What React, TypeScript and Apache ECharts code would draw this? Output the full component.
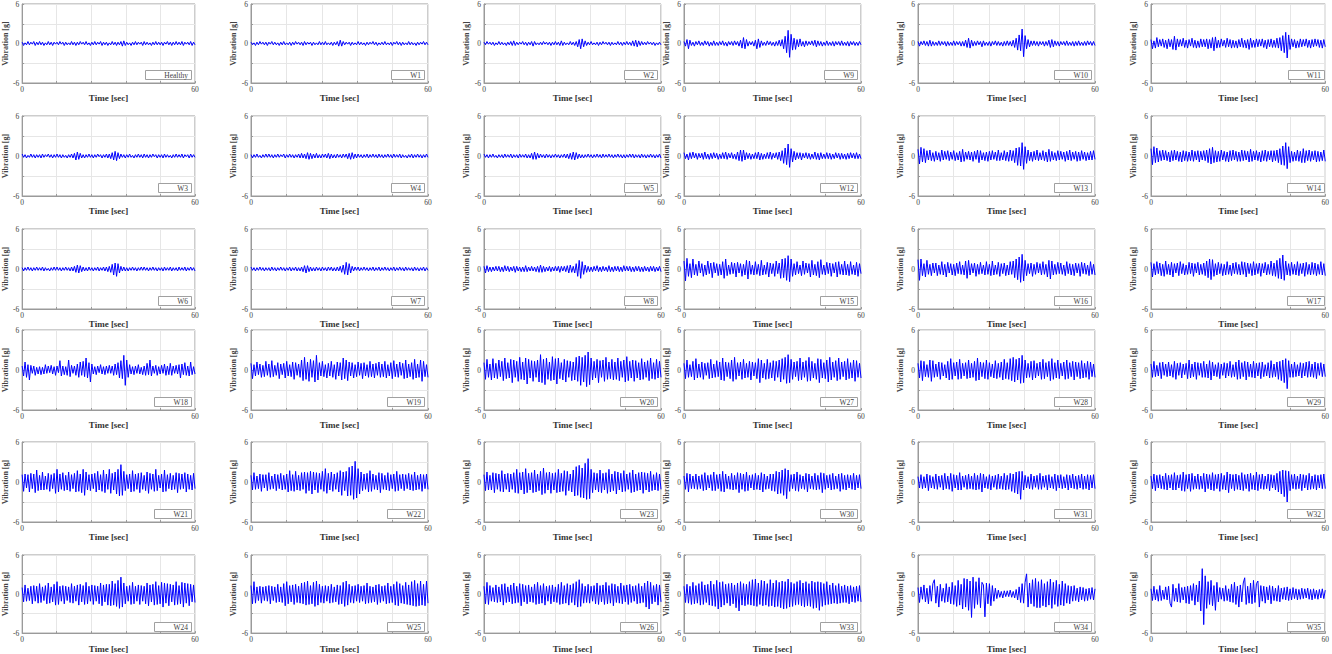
import React, { useEffect, useRef } from "react";
import * as echarts from "echarts";

// ---------- layout of the 6x6 panel grid (pixels) ----------
const COLS = [18, 251, 484, 684, 918, 1151];
const ROWS = [3, 116, 229, 330, 442, 555];
const PW = 177;
const PH = 80;

// ---------- axis ranges / ticks ----------
const X_MIN = 0;
const X_MAX = 60;
const X_STEP = 12;
const X_LABELS = [0, 60];
const Y_MIN = -6;
const Y_MAX = 6;
const Y_STEP = 3;
const Y_LABELS = [-6, 0, 6];

// ---------- panel labels, in layout order (row by row) ----------
const PANEL_LABELS = [
  "Healthy", "W1", "W2", "W9", "W10", "W11",
  "W3", "W4", "W5", "W12", "W13", "W14",
  "W6", "W7", "W8", "W15", "W16", "W17",
  "W18", "W19", "W20", "W27", "W28", "W29",
  "W21", "W22", "W23", "W30", "W31", "W32",
  "W24", "W25", "W26", "W33", "W34", "W35",
];

// ---------- vibration samples (g), evenly spaced over 0..60 s ----------
const healthy = [
  .2,-.3,.1,-.2,.3,-.2,.2,-.1,.3,-.3,.2,-.2, .3,-.2,.2,-.3,.1,-.2,.3,-.2,.2,-.3,.2,-.1,
  .2,-.2,.3,-.1,.2,-.3,.2,-.2,.1,-.2,.3,-.2, .2,-.3,.2,-.2,.3,-.1,.2,-.2,.3,-.2,.1,-.3,
  .2,-.2,.3,-.2,.2,-.1,.3,-.3,.2,-.2,.2,-.3, .1,-.2,.3,-.2,.2,-.3,.2,-.2,.3,-.4,.4,-.3,
  .2,-.2,.1,-.3,.2,-.2,.3,-.2,.2,-.1,.2,-.3, .3,-.2,.2,-.2,.1,-.3,.2,-.2,.3,-.2,.2,-.2,
  .2,-.3,.2,-.1,.3,-.2,.2,-.3,.2,-.2,.3,-.2, .2,-.2,.3,-.3,.2,-.1,.2,-.2,.3,-.3,.2,-.2];
const w1 = [
  .2,-.2,.1,-.3,.2,-.2,.3,-.1,.2,-.2,.2,-.3, .2,-.1,.3,-.2,.2,-.2,.1,-.3,.2,-.2,.3,-.2,
  .1,-.2,.2,-.3,.2,-.2,.3,-.1,.2,-.2,.2,-.3, .3,-.2,.2,-.1,.2,-.3,.2,-.2,.1,-.2,.3,-.2,
  .2,-.2,.3,-.2,.1,-.2,.2,-.3,.2,-.2,.3,-.4, .5,-.4,.3,-.2,.2,-.1,.2,-.3,.2,-.2,.1,-.2,
  .3,-.2,.2,-.2,.1,-.3,.2,-.2,.2,-.1,.3,-.2, .2,-.3,.1,-.2,.2,-.2,.3,-.2,.1,-.2,.2,-.3,
  .2,-.1,.3,-.2,.2,-.3,.2,-.2,.1,-.2,.3,-.2, .2,-.2,.1,-.3,.2,-.2,.2,-.1,.3,-.2,.2,-.2];
const w2 = [
  .2,-.2,.3,-.1,.2,-.2,.2,-.3,.1,-.2,.3,-.2, .2,-.2,.1,-.3,.2,-.2,.3,-.3,.4,-.3,.2,-.2,
  .2,-.1,.3,-.2,.2,-.3,.2,-.2,.3,-.4,.3,-.2, .1,-.2,.2,-.2,.3,-.1,.2,-.2,.2,-.3,.2,-.2,
  .3,-.2,.2,-.3,.4,-.3,.2,-.2,.1,-.2,.3,-.2, .2,-.3,.3,-.5,.6,-.8,.7,-.5,.4,-.3,.2,-.2,
  .3,-.2,.1,-.2,.2,-.3,.2,-.2,.3,-.1,.2,-.2, .2,-.3,.2,-.2,.1,-.2,.3,-.2,.2,-.3,.2,-.2,
  .3,-.2,.2,-.3,.4,-.4,.5,-.5,.4,-.3,.3,-.2, .2,-.2,.3,-.1,.2,-.2,.2,-.3,.1,-.2,.2,-.2];
const w9 = [
  .3,-.4,.6,-.8,.5,-.3,.2,-.4,.3,-.2,.4,-.3, .2,-.3,.4,-.2,.3,-.4,.2,-.3,.4,-.3,.2,-.3,
  .3,-.2,.4,-.3,.2,-.4,.3,-.2,.3,-.3,.4,-.2, .3,-.4,.5,-.7,.9,-.8,.6,-.4,.3,-.2,.3,-.4,
  .5,-.8,.7,-.6,.4,-.3,.2,-.3,.4,-.2,.3,-.3, .2,-.4,.3,-.3,.5,-.4,.6,-.8,1.1,-1.4,2,-2.1,
  1.4,-1,.8,-.9,.6,-.5,.7,-.4,.3,-.5,.4,-.3, .3,-.2,.4,-.3,.5,-.5,.4,-.3,.3,-.4,.2,-.3,
  .4,-.3,.2,-.3,.3,-.4,.3,-.2,.3,-.3,.4,-.3, .2,-.3,.3,-.4,.3,-.2,.3,-.3,.2,-.3,.3,-.2];
const w10 = [
  .3,-.4,.3,-.2,.4,-.3,.3,-.4,.5,-.4,.3,-.3, .2,-.3,.4,-.3,.3,-.2,.3,-.4,.3,-.3,.2,-.3,
  .4,-.3,.3,-.2,.3,-.4,.3,-.4,.5,-.6,.8,-.7, .5,-.4,.3,-.3,.4,-.2,.3,-.5,.4,-.3,.2,-.3,
  .3,-.4,.3,-.2,.4,-.3,.3,-.3,.2,-.4,.3,-.3, .4,-.3,.3,-.4,.5,-.6,.8,-1,1.3,-1.1,2.2,-2,
  1.2,-.8,.6,-.5,.4,-.3,.4,-.3,.3,-.4,.3,-.2, .3,-.4,.3,-.3,.5,-.6,.6,-.5,.4,-.3,.3,-.4,
  .3,-.2,.3,-.3,.4,-.3,.2,-.3,.3,-.4,.3,-.3, .4,-.3,.2,-.3,.3,-.3,.4,-.2,.3,-.3,.3,-.3];
const w11 = [
  .6,-.8,.4,-.7,.9,-.5,.6,-.4,.7,-.6,.5,-.8, .7,-.5,.6,-.9,1.1,-1,.7,-.5,.6,-.4,.8,-.6,
  .5,-.7,.6,-.4,.8,-.6,.5,-.7,.4,-.6,.7,-.5, .6,-.5,.7,-.8,.6,-.7,.9,-1.1,1,-.7,.5,-.6,
  .7,-.4,.5,-.6,.8,-.5,.6,-.7,.5,-.6,.4,-.7, .6,-.5,.8,-.6,.5,-.7,.6,-.9,.8,-.6,.5,-.6,
  .7,-.5,.6,-.4,.7,-.6,.5,-.8,.6,-.5,.7,-.6, .5,-.6,.8,-.7,.9,-1.1,1.2,-1.4,1.7,-2.2,1.3,-.9,
  .7,-.5,.6,-.7,.4,-.6,.7,-.5,.6,-.4,.7,-.6, .5,-.7,.6,-.5,.7,-.4,.6,-.6,.5,-.7,.6,-.5];
const w3 = [
  .3,-.2,.2,-.3,.1,-.2,.3,-.2,.2,-.3,.2,-.2, .2,-.3,.3,-.2,.2,-.1,.3,-.2,.2,-.3,.2,-.2,
  .3,-.2,.2,-.3,.2,-.2,.1,-.3,.2,-.2,.3,-.3, .4,-.6,.6,-.5,.4,-.3,.2,-.3,.2,-.2,.3,-.2,
  .2,-.3,.2,-.2,.3,-.1,.2,-.3,.2,-.2,.3,-.3, .3,-.4,.5,-.6,.7,-.7,.5,-.4,.3,-.2,.2,-.3,
  .2,-.2,.3,-.2,.1,-.3,.2,-.2,.3,-.2,.2,-.3, .3,-.2,.2,-.3,.2,-.2,.3,-.1,.2,-.3,.2,-.2,
  .2,-.3,.3,-.2,.2,-.2,.1,-.3,.2,-.2,.3,-.2, .2,-.2,.3,-.3,.2,-.1,.2,-.3,.3,-.2,.2,-.2];
const w4 = [
  .2,-.3,.2,-.2,.3,-.2,.1,-.3,.2,-.2,.3,-.2, .3,-.2,.2,-.3,.2,-.2,.3,-.2,.2,-.1,.3,-.3,
  .2,-.2,.3,-.2,.2,-.3,.2,-.2,.3,-.3,.4,-.3, .3,-.4,.5,-.5,.4,-.4,.3,-.3,.4,-.3,.2,-.3,
  .3,-.2,.3,-.3,.4,-.4,.3,-.3,.2,-.3,.3,-.2, .2,-.3,.3,-.2,.3,-.4,.4,-.5,.5,-.4,.3,-.3,
  .3,-.2,.2,-.3,.2,-.2,.3,-.3,.2,-.2,.3,-.2, .2,-.3,.3,-.2,.2,-.3,.2,-.2,.3,-.2,.2,-.3,
  .3,-.2,.2,-.2,.3,-.3,.2,-.2,.1,-.3,.2,-.2, .3,-.3,.2,-.2,.3,-.2,.2,-.3,.2,-.2,.3,-.2];
const w5 = [
  .3,-.2,.2,-.3,.2,-.2,.3,-.2,.1,-.3,.2,-.2, .2,-.3,.3,-.2,.2,-.2,.3,-.3,.2,-.2,.2,-.3,
  .3,-.2,.2,-.2,.3,-.3,.2,-.3,.4,-.5,.6,-.5, .4,-.3,.3,-.2,.2,-.3,.3,-.2,.2,-.3,.2,-.2,
  .3,-.2,.2,-.3,.2,-.2,.3,-.3,.3,-.4,.4,-.5, .6,-.6,.5,-.4,.3,-.3,.2,-.3,.2,-.2,.3,-.2,
  .2,-.3,.2,-.2,.3,-.2,.2,-.3,.3,-.2,.2,-.2, .3,-.2,.2,-.3,.2,-.2,.3,-.2,.2,-.3,.2,-.3,
  .2,-.2,.3,-.2,.3,-.3,.2,-.2,.2,-.3,.3,-.2, .2,-.3,.2,-.2,.3,-.2,.2,-.3,.2,-.2,.3,-.3];
const w12 = [
  .5,-.4,.3,-.6,.5,-.4,.6,-.3,.4,-.5,.4,-.3, .4,-.5,.6,-.4,.3,-.5,.4,-.4,.5,-.3,.4,-.5,
  .3,-.4,.5,-.4,.6,-.5,.4,-.3,.5,-.4,.3,-.5, .6,-.7,.9,-.8,.9,-.6,.5,-.4,.4,-.5,.3,-.4,
  .5,-.4,.6,-.6,.4,-.5,.3,-.4,.5,-.4,.6,-.5, .4,-.3,.5,-.5,.6,-.7,.8,-1.1,1.2,-1.3,1.8,-1.7,
  1.1,-.9,.7,-.6,.5,-.4,.5,-.6,.4,-.3,.5,-.4, .4,-.5,.3,-.4,.6,-.5,.4,-.6,.5,-.4,.3,-.4,
  .5,-.4,.4,-.5,.3,-.4,.5,-.3,.4,-.5,.4,-.4, .3,-.5,.4,-.4,.5,-.3,.4,-.4,.5,-.4,.3,-.4];
const w13 = [
  1,-1.2,1.3,-.9,1.1,-1,.8,-.6,.9,-.7,.5,-.8, .7,-.6,.5,-.8,.9,-.6,.7,-.5,.8,-.7,.6,-.5,
  .8,-.7,.5,-.6,.7,-.9,1,-.8,.6,-.5,.7,-.6, .6,-.8,.7,-.5,.9,-1,.8,-.6,.5,-.7,.6,-.8,
  .7,-.6,.8,-.5,.6,-.7,.9,-.7,.5,-.6,.8,-.7, .6,-.8,.9,-.7,.8,-1,1.2,-1.4,1.3,-1.5,2,-2,
  1.4,-1.1,.9,-.7,.6,-.8,.7,-.6,.9,-.7,.5,-.6, .8,-.7,.6,-.9,1,-.8,.7,-.6,.5,-.7,.8,-.6,
  .7,-.5,.6,-.8,.7,-.6,.9,-.7,.6,-.5,.7,-.8, .6,-.7,.8,-.5,.6,-.7,.5,-.6,.7,-.6,.8,-.5];
const w14 = [
  1.1,-1.3,1.4,-1,1.2,-.9,.8,-.7,.9,-.6,.8,-.7, .6,-.9,.8,-.7,.9,-.6,.7,-.8,.6,-.9,.8,-.7,
  .7,-.8,.6,-.7,.9,-.8,.7,-.6,.8,-.9,.7,-.6, .8,-.7,.9,-1,1.1,-1.2,1.3,-1,.8,-.9,.7,-.8,
  .9,-.6,.7,-.8,.6,-.9,.8,-.7,.9,-.6,.7,-.8, .6,-.8,.9,-.7,.8,-.6,.7,-.9,1,-.8,.7,-.6,
  .8,-.7,.6,-.9,.8,-.7,.9,-.8,.7,-.6,.8,-.9, .8,-.7,.9,-1,1.1,-1.3,1.5,-1.4,2,-1.9,1.4,-1,
  .7,-.8,.6,-.7,.9,-.8,.7,-1,1.1,-1,.8,-.7, .9,-.8,.7,-.6,.8,-.9,.7,-.8,.6,-.7,.9,-.8];
const w6 = [
  .2,-.3,.2,-.2,.3,-.2,.2,-.3,.2,-.2,.3,-.2, .2,-.2,.3,-.3,.2,-.2,.1,-.3,.2,-.2,.3,-.2,
  .3,-.2,.2,-.3,.2,-.2,.3,-.2,.2,-.3,.3,-.3, .4,-.5,.6,-.6,.5,-.4,.3,-.3,.2,-.3,.3,-.2,
  .2,-.3,.2,-.2,.3,-.3,.2,-.2,.3,-.3,.3,-.4, .4,-.5,.7,-.9,.9,-1.1,.8,-.6,.4,-.3,.3,-.3,
  .2,-.3,.2,-.2,.3,-.2,.2,-.3,.2,-.2,.3,-.2, .3,-.2,.2,-.3,.2,-.2,.3,-.2,.2,-.3,.2,-.2,
  .2,-.3,.3,-.2,.2,-.2,.3,-.3,.2,-.2,.2,-.3, .3,-.2,.2,-.2,.3,-.3,.2,-.2,.3,-.2,.2,-.3];
const w7 = [
  .3,-.2,.2,-.3,.2,-.2,.3,-.2,.2,-.3,.2,-.2, .2,-.3,.3,-.2,.2,-.3,.2,-.2,.3,-.2,.2,-.3,
  .2,-.2,.3,-.3,.2,-.2,.3,-.3,.2,-.3,.3,-.4, .5,-.6,.5,-.4,.3,-.3,.2,-.3,.3,-.2,.2,-.3,
  .3,-.2,.2,-.3,.3,-.2,.3,-.3,.2,-.3,.3,-.3, .4,-.5,.6,-.8,1,-.9,.8,-.6,.4,-.3,.3,-.2,
  .3,-.3,.2,-.2,.3,-.2,.2,-.3,.2,-.2,.3,-.3, .2,-.2,.3,-.3,.2,-.2,.3,-.2,.2,-.3,.2,-.2,
  .3,-.3,.2,-.2,.3,-.2,.2,-.3,.3,-.2,.2,-.2, .2,-.3,.3,-.2,.2,-.3,.2,-.2,.3,-.3,.2,-.2];
const w8 = [
  .4,-.6,.5,-.4,.3,-.4,.3,-.3,.4,-.3,.4,-.4, .3,-.4,.5,-.3,.4,-.4,.3,-.3,.4,-.5,.4,-.3,
  .3,-.4,.3,-.4,.5,-.4,.3,-.3,.4,-.3,.3,-.4, .4,-.5,.6,-.5,.4,-.4,.3,-.3,.4,-.4,.3,-.3,
  .4,-.3,.4,-.5,.4,-.3,.4,-.4,.5,-.6,.6,-.5, .4,-.6,.8,-1.1,1.3,-1.4,1.1,-.8,.6,-.5,.4,-.4,
  .3,-.4,.4,-.3,.5,-.4,.3,-.4,.4,-.3,.3,-.4, .5,-.4,.3,-.4,.4,-.3,.4,-.4,.3,-.4,.5,-.3,
  .4,-.3,.4,-.4,.3,-.4,.4,-.3,.4,-.4,.3,-.4, .4,-.3,.3,-.4,.4,-.3,.4,-.4,.3,-.3,.4,-.4];
const w15 = [
  1.2,-1.8,1.6,-1.1,.8,-1.3,1.5,-.9,.7,-1,1.2,-.6, .8,-1.1,.6,-.9,1.2,-.7,.9,-1.3,1,-.6,.8,-1,
  .7,-.9,1.1,-1.4,1.5,-1,.6,-.8,1,-.7,.9,-1.2, 1,-.6,.8,-1.1,.7,-.9,1.3,-1.5,1.2,-.8,.6,-.9,
  1.1,-.8,.7,-1,1.3,-.9,.6,-.8,1,-1.2,.9,-.7, .8,-1.1,1.2,-.7,.9,-1.4,1.5,-1.3,1.6,-1.7,2,-1.9,
  1.5,-1.1,.8,-.9,1.1,-.7,.6,-1,1.2,-.8,.9,-.6, .8,-1.2,1.3,-.9,.7,-1,1.1,-1.3,1.4,-.8,.6,-.9,
  1,-.7,.9,-1.1,.8,-.6,1,-1.2,1.1,-.8,.7,-.9, 1.2,-.9,.7,-1,1.1,-.8,.6,-.9,1,-1.1,.8,-.7];
const w16 = [
  1.4,-1.7,1.5,-1,.8,-1.2,1.3,-.8,.7,-1,.9,-.6, .9,-1,.6,-.8,1.1,-.9,.7,-1.2,1,-.6,.8,-.9,
  .7,-1,.9,-.7,1.1,-.8,.6,-.9,1.2,-1.4,1.3,-.9, .8,-.6,.9,-1.1,.7,-.8,1,-.7,.6,-.9,1.1,-.8,
  .7,-1,1.2,-.9,.6,-.8,1,-1.1,.8,-.7,.9,-1, .6,-.9,1.1,-.8,1.2,-1.3,1.5,-1.6,1.8,-2,2.2,-1.8,
  1.3,-1,.8,-.7,.9,-1.1,.7,-.8,1,-.6,.8,-.9, 1.1,-.8,.7,-1.2,1.3,-1.5,1.2,-.9,.7,-.8,1,-.7,
  .9,-.8,.6,-1,1.1,-.7,.8,-.9,.7,-1,.9,-.6, .8,-1.1,1,-.7,.9,-.8,.6,-1,1.1,-.8,.7,-.9];
const w17 = [
  1,-1.2,.8,-.9,1.1,-.7,.9,-1,.7,-1.1,1.2,-.8, .7,-.9,1,-1.2,.8,-.6,.9,-1,1.1,-.7,.8,-.9,
  .6,-.8,1,-.7,.9,-1.1,.8,-.6,1,-.9,.7,-.8, .9,-1,1.2,-1.3,1.5,-1.6,1.4,-1.1,.8,-.9,1,-.7,
  .8,-1,.7,-.9,1.1,-.8,.6,-1,.9,-.7,1,-.8, .7,-.9,1.1,-.8,1,-1.2,.9,-.7,.8,-1,1.1,-.9,
  .8,-.7,.9,-1.1,.8,-.6,1,-.9,.7,-.8,1.2,-1, .9,-1.1,1.3,-1.4,1.6,-1.5,2.1,-1.7,1.2,-.9,.8,-1,
  1,-.8,.7,-.9,1.1,-1,.8,-.7,.9,-1.1,1,-.8, .7,-.9,1,-.8,.9,-1,.7,-.8,1.1,-.9,.8,-1];
const w18 = [
  .6,-.9,1.2,-1.1,.8,-1.5,.7,-.5,.6,-.8,.4,-.6, .5,-.7,.4,-.6,.8,-.5,.6,-.4,.7,-.6,.5,-.8,
  .6,-.4,1.4,-.9,.6,-.7,.5,-.8,1.5,-1,.7,-.5, .6,-.8,.9,-1.1,1.2,-.8,1.3,-1,1.8,-1.2,1.1,-1.8,
  .9,-.6,.5,-.7,.6,-.4,.8,-.6,.5,-.7,.6,-.5, .7,-.5,.6,-.8,.9,-.7,1.1,-1.2,1.4,-1.3,2.2,-2.3,
  1.5,-1.1,.8,-.6,.5,-.7,.6,-.5,.8,-.6,.4,-.7, .6,-.8,1,-.7,1.5,-.9,.6,-.5,.7,-.8,.5,-.6,
  .7,-.5,.9,-.8,.6,-.7,1,-.8,.6,-.5,.7,-.6, .8,-1.2,.9,-.7,1.1,-.8,.6,-.9,1.2,-.7,.5,-.6];
const w19 = [
  1,-1.3,.8,-.9,1.2,-.7,.9,-1.1,.7,-1,1.3,-.8, .9,-1.1,1.4,-1,.7,-.8,1.1,-1.3,.9,-.7,1,-1.2,
  1.3,-.9,.8,-1,1.2,-1.4,1.1,-.8,.9,-1.1,1.5,-1.6, 1.9,-1.4,1.2,-1.7,1.6,-1.1,1.4,-1.8,2.2,-1.5,1.1,-.9,
  1.3,-1,.8,-1.2,1,-.9,1.3,-1.1,.8,-1.4,1.2,-.9, 1.1,-1.5,1.8,-1.3,1.5,-1.6,1.2,-.9,1.1,-1.2,.8,-1,
  1.2,-.8,1,-1.3,1.1,-.9,.8,-1.1,1.3,-1,.9,-1.2, 1,-.8,1.2,-1.1,.9,-1,1.3,-1.2,.8,-.9,1.1,-1.3,
  1.4,-1,.9,-1.1,1.2,-.8,1,-1.3,1.5,-1.2,.9,-1, 1.1,-1.4,1.6,-1.2,.9,-1.1,1.5,-1.7,1.3,-1,.8,-1.1];
const w20 = [
  1.1,-1.4,1.6,-1.1,.9,-1.5,1.7,-1.2,1,-1.3,1.5,-1, 1.3,-1.6,1.8,-1.3,1.1,-1.2,1.6,-1.9,1.5,-1.1,1.3,-1.7,
  1.9,-1.4,1.2,-1.5,1.8,-2.1,1.6,-1.2,1.4,-1.7,1.3,-1.1, 1.5,-1.8,2.3,-1.9,1.6,-2.2,1.8,-1.4,1.2,-1.6,2,-1.5,
  1.7,-2.1,1.8,-1.3,1.1,-1.5,1.6,-1.8,1.4,-1.1,1.3,-1.6, 1.2,-1.5,1.9,-1.7,2.1,-2.3,1.9,-1.8,2.2,-2.5,2.7,-2.2,
  1.8,-1.5,1.3,-1.2,1.6,-1.9,1.4,-1.1,1.5,-1.7,1.9,-1.4, 1.2,-1.3,1.6,-1.5,1.2,-1.4,1.8,-1.6,1.3,-1.1,1.5,-1.8,
  2,-1.6,1.3,-1.2,1.5,-1.7,1.4,-1.2,1.1,-1.5,1.7,-1.4, 1.2,-1.1,1.4,-1.6,1.8,-1.3,1.1,-1.4,1.6,-1.2,1.3,-1.1];
const w27 = [
  1,-1.3,1.5,-1.1,.8,-1,1.3,-1.5,1.7,-1.2,.9,-1.1, 1.2,-1.4,1,-.8,1.1,-1.3,1.6,-1.2,.9,-1.1,1.4,-1,
  1.2,-1.5,1.8,-1.6,1.2,-1,1.1,-1.3,1.5,-1.7,1.9,-1.4, 1.1,-.9,1.2,-1.4,1.6,-1.2,1,-1.1,1.3,-1.5,1.2,-.9,
  1.1,-1.3,1.7,-1.9,1.5,-1.2,1,-1.4,1.6,-1.3,1.1,-1.2, 1.4,-1.6,1.3,-1.1,1.5,-1.8,1.7,-1.4,1.9,-2,2.3,-1.9,
  1.6,-1.4,1.2,-1,1.3,-1.6,1.8,-1.5,1.2,-1.1,1.4,-1.7, 1.9,-1.6,1.3,-1.2,1,-1.4,1.7,-1.9,1.6,-1.2,1.1,-1.3,
  1.5,-1.8,1.9,-1.5,1.2,-1.1,1.4,-1.6,1.8,-1.4,1.2,-1, 1.3,-1.5,1.7,-1.3,1.1,-1.2,1.5,-1.7,1.4,-1.1,1,-1.2];
const w28 = [
  1,-1.2,1.4,-1.6,1.3,-1,.8,-1.1,1.5,-1.7,1.4,-1.1, .9,-1,1.2,-1.4,1.1,-.9,.8,-1.2,1.3,-1.5,1.7,-1.4,
  1.1,-.9,1.2,-1.4,1.6,-1.3,1,-.9,1.1,-1.3,1.5,-1.2, 1,-1.1,1.3,-1.6,1.8,-1.5,1.2,-1,1.1,-1.3,1.5,-1.4,
  1.1,-1,.9,-1.2,1.4,-1.3,1,-1.1,1.2,-1.5,1.6,-1.3, 1.1,-1.4,1.7,-1.6,1.9,-1.8,1.6,-1.5,1.8,-2,2.2,-1.9,
  1.5,-1.2,1,-1.1,1.3,-1.5,1.4,-1.2,1,-.9,1.2,-1.4, 1.6,-1.3,1.1,-1,1.3,-1.6,1.7,-1.4,1.1,-1.2,1.5,-1.3,
  1,-.9,1.2,-1.4,1.5,-1.3,1.1,-1,1.3,-1.5,1.2,-1, 1.1,-1.3,1.4,-1.2,1,-1.1,1.3,-1.4,1.2,-1,.9,-1.1];
const w29 = [
  .9,-1.1,1.3,-1,.7,-.9,1.1,-1.3,1.2,-.8,.9,-1, 1.2,-.9,.8,-1.1,1.3,-1.4,1,-.8,1.1,-1.2,.9,-.7,
  1,-1.3,1.5,-1.2,.9,-1,1.2,-1.4,1.1,-.8,1,-1.1, 1.3,-1.1,.9,-1.2,1.4,-1.5,1.2,-.9,.8,-1,1.1,-1.3,
  .9,-.8,1.1,-1.2,1,-.9,1.3,-1.1,.8,-1,1.2,-1.4, 1.5,-1.3,1.1,-1,1.3,-1.5,1.2,-1,.9,-1.1,1.3,-1.2,
  1,-.9,1.1,-1.3,1.2,-1,.8,-.9,1.1,-1.2,1.4,-1.1, .9,-1,1.2,-1.4,1.3,-1.6,1.5,-1.9,1.7,-2.8,1.4,-1.1,
  .9,-1.1,1.2,-1,.8,-.9,1.1,-1.2,1,-.9,1.2,-1.1, 1.3,-1,.9,-1.1,1.2,-1.3,1,-.8,1.1,-1,.9,-1];
const w21 = [
  1.1,-1.4,1.2,-.9,1.1,-1.5,1.3,-1,1.2,-1.6,1.8,-1.3, 1,-1.2,1.5,-1.2,.9,-1.1,1.3,-1.4,1.1,-1,1.3,-1.7,
  1.9,-1.5,1.2,-1.1,1.4,-1.3,1,-1.2,1.5,-1.4,1.1,-1, 1.3,-1.5,1.7,-1.4,1.2,-1.6,1.9,-2,1.5,-1.2,1.1,-1.3,
  1.2,-1,1.3,-1.5,1.6,-1.2,1.1,-1.4,1.8,-1.6,1.2,-1.1, 1.9,-1.7,1.3,-1.2,1.5,-1.8,1.9,-2.1,2.6,-2,1.6,-1.3,
  1.1,-1,1.2,-1.5,1.7,-1.4,1.2,-1.1,1.3,-1.6,1.4,-1.1, 1,-1.3,1.5,-1.7,1.3,-1.1,1.2,-1.4,1.9,-1.3,1,-.9,
  1.2,-1.5,1.8,-1.4,1.1,-1,1.3,-1.2,1,-1.1,1.4,-1.6, 1.3,-1.1,1.2,-1,1.4,-1.5,1.2,-1.1,1,-1.2,1.3,-1];
const w22 = [
  1,-1.2,1.4,-1.1,.9,-1,1.2,-1.4,1.1,-.9,1.1,-1.3, 1.4,-1.1,.9,-1,1.2,-1.3,1.1,-1,1.3,-1.2,1,-1.1,
  1.2,-1.5,1.7,-1.3,1.1,-1.4,1.6,-1.2,1,-1.3,1.4,-1.1, 1.5,-1.7,1.4,-1.3,1.6,-1.8,1.5,-1.2,1.4,-1.6,1.3,-1.1,
  1.6,-1.4,2,-1.7,1.3,-1.2,1.5,-1.4,1.2,-1.1,1.4,-1.5, 1.7,-2,1.5,-1.3,1.6,-2.1,2.2,-2,2.4,-2.6,3.1,-2.4,
  2,-1.8,1.5,-1.3,1.2,-1.1,1.3,-1.5,1.7,-1.4,1.2,-1.1, 1,-1.2,1.4,-1.6,1.3,-1.1,1,-1.2,1.4,-1.3,1.1,-1,
  1.2,-1.4,1.6,-1.3,1.1,-1,1.2,-1.3,1.1,-1,1.3,-1.2, 1.1,-1.3,1.5,-1.2,1,-1.1,1.2,-1.4,1.1,-1,1.2,-1.1];
const w23 = [
  1.1,-1.3,1.5,-1.2,1,-1.2,1.4,-1.6,1.3,-1.1,1.2,-1.4, 1.7,-1.5,1.2,-1.1,1.3,-1.5,1.2,-1.1,1.4,-1.6,1.9,-1.7,
  1.4,-1.2,1.5,-1.8,2,-1.6,1.3,-1.2,1.4,-1.6,1.8,-1.5, 1.2,-1.3,1.6,-1.9,2.1,-1.7,1.4,-1.2,1.5,-1.7,1.3,-1.2,
  1.4,-1.6,1.9,-1.5,1.3,-1.4,1.7,-2,1.6,-1.3,1.2,-1.5, 1.8,-2.1,2.3,-2,2.5,-2.3,2.1,-2.4,2.8,-2.6,3.5,-2.5,
  1.9,-1.6,1.4,-1.2,1.3,-1.5,1.8,-1.6,1.3,-1.2,1.4,-1.7, 1.9,-1.5,1.2,-1.3,1.6,-1.8,1.5,-1.2,1.3,-1.5,1.7,-1.4,
  1.2,-1.1,1.4,-1.6,1.8,-1.5,1.2,-1.3,1.4,-1.2,1.5,-1.7, 1.4,-1.2,1.3,-1.5,1.6,-1.3,1.1,-1.2,1.4,-1.3,1.2,-1.1];
const w30 = [
  .9,-1.1,1.3,-1.5,1.2,-1,.9,-1,1.2,-1.1,.9,-1, 1.1,-1.3,1.4,-1.2,1,-.9,1.1,-1.3,1.5,-1.3,1.1,-1,
  1.2,-1.4,1.6,-1.5,1.2,-1,.9,-1.1,1.3,-1.2,1,-1.1, 1.4,-1.6,1.3,-1.1,1.2,-1.4,1.5,-1.3,1,-.9,1.1,-1.2,
  1.3,-1.1,1,-1.2,1.4,-1.5,1.2,-1.1,.9,-1,1.2,-1.3, 1.2,-1.4,1.6,-1.8,1.5,-1.7,1.8,-2,2,-2.5,1.8,-1.4,
  1.1,-1,1.2,-1.3,1.5,-1.4,1.1,-1,.9,-1.1,1.3,-1.5, 1.2,-1,.9,-1.1,1.3,-1.2,1,-1.1,1.4,-1.6,1.3,-1.1,
  1,-.9,1.1,-1.2,1.3,-1.1,.9,-1,1.2,-1.4,1.3,-1.1, 1,-1.2,1.1,-.9,1,-1.1,1.3,-1.2,1,-.9,1.1,-1];
const w31 = [
  .8,-.9,1.1,-1,.8,-.9,1.2,-1.3,1,-.9,.8,-1, 1.2,-1.1,.9,-.8,1,-1.2,1.3,-1,.9,-1.1,1.3,-1.4,
  1.1,-.9,1,-1.2,1.4,-1.2,.9,-.8,1,-1.1,1.2,-1, .9,-1.1,1.3,-1.2,1,-1.1,1.3,-1.5,1.2,-.9,.8,-1,
  1.1,-1.2,.9,-.8,1,-1.1,1.2,-1,.9,-1.1,1.3,-1.2, 1,-1.1,1.3,-1.4,1.2,-1.6,1.5,-1.8,1.6,-2.6,1.6,-1.2,
  1,-.9,.8,-1,1.2,-1.1,.9,-.8,1,-1.1,1.3,-1.1, .9,-.8,1,-1.2,1.1,-.9,.8,-1,1.2,-1.3,1,-.9,
  1.1,-1,.8,-.9,1.1,-1.2,1,-.9,1.2,-1,.9,-1.1, 1,-.9,1.2,-1.1,.9,-1,1.1,-1.2,1,-.9,1.1,-1];
const w32 = [
  .9,-1,1.2,-1.3,1,-.9,1.1,-1,.9,-1.1,1.3,-1.2, 1,-.9,1.1,-1.2,1.4,-1.2,1,-.9,1.1,-1.3,1.5,-1.4,
  1.1,-1,1.2,-1.4,1.3,-1.1,.9,-1,1.2,-1.1,.9,-1, 1.3,-1.5,1.2,-1,1.1,-1.2,1.4,-1.3,1.1,-1,1.2,-1.4,
  1.3,-1.1,1,-1.2,1.5,-1.6,1.2,-1,1.1,-1.3,1.2,-1.1, 1,-1.2,1.4,-1.3,1.1,-1,1.2,-1.4,1.3,-1.1,1,-1.2,
  1.5,-1.3,1.1,-1,1.2,-1.1,.9,-1,1.2,-1.3,1.1,-.9, 1,-1.2,1.3,-1.5,1.6,-1.8,1.8,-2.2,1.7,-3,1.6,-1.3,
  1.1,-1,1.2,-1.1,.9,-1,1.2,-1.3,1.1,-.9,1,-1.2, 1.3,-1.1,.9,-1,1.1,-1.2,1,-.9,1.1,-1,1.2,-1];
const w24 = [
  1,-1.2,1.4,-1.1,.9,-1,1.2,-1.5,1.3,-1.1,1.2,-1.4, 1.6,-1.3,1.1,-1,1.3,-1.5,1.7,-1.4,1.1,-1.2,1.5,-1.7,
  1.9,-1.6,1.2,-1.1,1.3,-1.5,1.2,-1,1.1,-1.3,1.6,-1.4, 1.2,-1.1,1.4,-1.7,1.5,-1.2,1.3,-1.6,1.8,-1.5,1.2,-1.1,
  1.4,-1.6,1.3,-1.1,1.2,-1.5,1.7,-1.8,1.4,-1.2,1.5,-1.7, 1.5,-1.8,2,-1.7,1.6,-1.9,2.1,-2.2,2.6,-2,1.7,-1.5,
  1.2,-1.1,1.3,-1.6,1.8,-1.5,1.2,-1.1,1.4,-1.6,1.3,-1.1, 1.2,-1.5,1.7,-1.8,1.4,-1.2,1.5,-1.7,1.9,-1.6,1.3,-1.5,
  1.8,-2,1.7,-1.4,1.6,-1.8,1.5,-1.2,1.4,-1.7,1.9,-1.6, 1.3,-1.5,1.8,-2,1.7,-1.4,1.6,-1.8,1.5,-1.2,1.4,-1.3];
const w25 = [
  1.3,-1.5,1.9,-1.4,1.1,-1,1.2,-1.4,1.1,-1,1.2,-1.1, 1.3,-1.5,1.2,-1,1.1,-1.3,1.5,-1.2,1.1,-1.3,1.6,-1.8,
  1.9,-1.5,1.3,-1.2,1.4,-1.6,1.5,-1.3,1.2,-1.4,1.7,-1.5, 1.8,-1.7,2,-1.6,1.3,-1.5,1.8,-1.9,2,-1.7,1.5,-1.3,
  1.2,-1.4,1.3,-1.1,1.2,-1.4,1.5,-1.3,1.1,-1.2,1.4,-1.6, 1.3,-1.5,1.8,-1.9,2,-1.7,1.5,-1.3,1.2,-1.4,1.3,-1.1,
  1.5,-1.3,1.2,-1.1,1.3,-1.5,1.7,-1.4,1.2,-1.3,1.1,-1.2, 1.4,-1.6,1.5,-1.3,1.2,-1.1,1.3,-1.5,1.7,-1.4,1.2,-1.3,
  1.5,-1.7,1.9,-1.8,1.6,-1.4,1.3,-1.5,1.8,-1.6,1.4,-1.7, 1.9,-1.8,2.1,-1.9,1.6,-1.8,2,-1.7,1.5,-1.8,2,-1.4];
const w26 = [
  1.2,-1.5,1.8,-1.6,1.3,-1.1,1,-1.2,1.4,-1.3,1.1,-1.2, 1.5,-1.7,1.6,-1.3,1.1,-1.2,1.4,-1.5,1.7,-1.4,1.2,-1.3,
  1.6,-1.8,1.5,-1.2,1.3,-1.5,1.4,-1.2,1.1,-1.3,1.5,-1.6, 1.8,-1.5,1.3,-1.4,1.6,-1.7,1.2,-1.1,1.3,-1.5,1.4,-1.2,
  1.1,-1.3,1.5,-1.6,1.8,-1.5,1.3,-1.4,1.6,-1.7,1.4,-1.3, 1.6,-1.7,1.9,-2,2.2,-1.9,1.6,-1.4,1.2,-1.3,1.5,-1.4,
  1.2,-1.1,1.3,-1.5,1.7,-1.6,1.3,-1.2,1.4,-1.6,1.8,-1.5, 1.3,-1.4,1.6,-1.8,1.5,-1.3,1.2,-1.4,1.7,-1.5,1.3,-1.2,
  1.4,-1.6,1.5,-1.3,1.2,-1.1,1.3,-1.5,1.6,-1.4,1.2,-1.3, 1.7,-2,2,-2.3,1.8,-1.5,1.3,-1.2,1.5,-1.7,1.4,-1.2];
const w33 = [
  1.2,-1.3,1.5,-1.4,1.2,-1.6,1.8,-1.5,1.3,-1.4,1.6,-1.7, 1.9,-1.6,1.4,-1.3,1.5,-1.7,2,-1.8,1.5,-1.9,2.1,-2.3,
  1.8,-2,1.9,-1.7,1.5,-1.4,1.6,-1.8,1.7,-1.5,1.4,-2.1, 1.7,-2.6,1.9,-1.7,1.6,-1.8,1.5,-1.6,1.9,-1.7,2.2,-1.8,
  2.3,-1.9,1.7,-1.6,2.1,-1.8,2,-1.7,1.6,-1.9,2.2,-1.8, 1.7,-2,2.1,-1.9,1.8,-2.1,2,-2.3,1.9,-2.2,2.3,-2,
  1.8,-1.9,1.6,-1.7,1.9,-1.6,2.1,-1.8,1.7,-2,1.9,-1.8, 1.6,-1.9,2,-2.2,1.8,-2.1,1.9,-2.5,1.8,-1.9,1.6,-1.7,
  1.9,-1.6,1.4,-1.5,1.7,-1.4,1.3,-1.5,1.6,-1.4,1.2,-1.3, 1.4,-1.3,1.2,-1.5,1.3,-1.2,1.1,-1.3,1.2,-1.1,1.3,-1.2];
const w34 = [
  1,-1.3,1.1,-.8,1.4,-1.2,.9,-1.5,1.3,-1.1,1.6,2.2, -1.4,1.2,-2,1.5,-1.1,.9,-1.3,1.6,-1.2,1.1,-1.5,1.8,
  -1.6,1.3,-1.9,2.1,-1.7,1.5,-2.3,2.4,-2,2.3,-2.5,2, -3.6,2.6,-2.2,1.9,-1.6,2.5,-2.1,1.8,1.4,-3.5,1.7,-1.5,
  1.6,-1.8,1.3,-1.1,.9,-.7,.6,-.5,.4,-.6,.5,-.4, .5,-.4,.6,-.5,.4,-.6,.7,-.9,1.1,-1.3,1.6,-1.4,
  1.8,3.1,-2,1.7,-1.5,2.2,-1.9,2.4,-2.1,1.9,-2.1,2.2, -1.8,1.6,-2,1.9,-1.7,2.3,-2.2,1.8,-1.6,2.1,-1.9,1.5,
  -1.7,2,-1.8,1.6,-1.4,1.3,-1.5,1.2,-1.1,1.3,-1,.9, -1.2,1.1,-.9,1,-1.1,.8,-1,.9,-.8,1,-.9,.8];
const w35 = [
  .8,-1,1.2,-.9,.7,-1.1,1.3,-1,.6,-.8,1.1,-.9, 1.2,-1.4,-2,1.5,-1.1,.9,-1.2,1.6,-1.3,1,-.9,1.1,
  -1.4,1.2,-1.5,1.3,-1,1.6,-1.7,1.4,-1.2,2,-2.6,3.9, -4.7,2.8,-2.2,1.9,-1.6,2.1,-1.8,1.3,-2.5,1.8,-1.2,1,
  -.8,.9,-1.1,1.3,-1,.8,-1.2,1.5,-1.3,1.8,-1.6,1.2, -2,1.4,-1.2,1.7,2.5,-1.6,1.2,-1.4,1.7,-1.5,2.1,-1.3,
  1.6,2,-2,1.3,-1.1,1.2,-1.4,1.1,-.9,1.3,-1.5,1.2, -1,.9,-1.1,1.3,-1.2,.9,-.8,1,-.9,1.1,-1,.8,
  -.9,1,-.7,.8,-.9,.7,-.8,.9,-.7,.8,-.6,.9, -.8,.7,-.9,.8,-.7,.6,-.8,.7,-.6,.8,-.7,.6];

const PANEL_DATA = [
  healthy, w1, w2, w9, w10, w11,
  w3, w4, w5, w12, w13, w14,
  w6, w7, w8, w15, w16, w17,
  w18, w19, w20, w27, w28, w29,
  w21, w22, w23, w30, w31, w32,
  w24, w25, w26, w33, w34, w35,
];

const FONT = "'Liberation Serif', 'DejaVu Serif', serif";

function textWidth(s: string, font: string): number {
  const c = document.createElement("canvas").getContext("2d");
  if (!c) return s.length * 4;
  c.font = font;
  return c.measureText(s).width;
}

export default function App() {
  const ref = useRef<HTMLDivElement>(null);

  useEffect(() => {
    document.body.style.margin = "0";
    if (!ref.current) return;
    const chart = echarts.init(ref.current, undefined, { renderer: "svg" });

    const grids: any[] = [];
    const xAxes: any[] = [];
    const yAxes: any[] = [];
    const series: any[] = [];
    const graphics: any[] = [];

    PANEL_LABELS.forEach((label, k) => {
      const r = Math.floor(k / 6);
      const c = k % 6;
      const left = COLS[c];
      const top = ROWS[r];
      grids.push({
        left,
        top,
        width: PW,
        height: PH,
        show: true,
        borderColor: "#9a9a9a",
        borderWidth: 1,
        backgroundColor: "#ffffff",
      });
      xAxes.push({
        gridIndex: k,
        type: "value",
        min: X_MIN,
        max: X_MAX,
        interval: X_STEP,
        name: "Time [sec]",
        nameLocation: "middle",
        nameGap: 9,
        nameTextStyle: { fontSize: 9, fontFamily: FONT, color: "#333", fontWeight: "bold" },
        axisLine: { show: true, onZero: false, lineStyle: { color: "#9a9a9a", width: 1 } },
        axisTick: { show: true, inside: true, length: 2, lineStyle: { color: "#9a9a9a" } },
        axisLabel: {
          fontSize: 7.5,
          fontFamily: FONT,
          color: "#444",
          margin: 2,
          formatter: (v: number) => (X_LABELS.includes(v) ? String(v) : ""),
        },
        splitLine: { show: true, lineStyle: { color: "#e6e6e6", width: 1 } },
      });
      yAxes.push({
        gridIndex: k,
        type: "value",
        min: Y_MIN,
        max: Y_MAX,
        interval: Y_STEP,
        name: "Vibration [g]",
        nameLocation: "middle",
        nameRotate: 90,
        nameGap: 10,
        nameTextStyle: { fontSize: 8, fontFamily: FONT, color: "#444", fontWeight: "bold" },
        axisLine: { show: true, lineStyle: { color: "#9a9a9a", width: 1 } },
        axisTick: { show: true, inside: true, length: 2, lineStyle: { color: "#9a9a9a" } },
        axisLabel: {
          fontSize: 7.5,
          fontFamily: FONT,
          color: "#444",
          margin: 3,
          formatter: (v: number) => (Y_LABELS.includes(v) ? String(v) : ""),
        },
        splitLine: { show: true, lineStyle: { color: "#e6e6e6", width: 1 } },
      });
      const vals = PANEL_DATA[k];
      const n = vals.length;
      series.push({
        type: "line",
        xAxisIndex: k,
        yAxisIndex: k,
        data: vals.map((v, i) => [X_MIN + (i * (X_MAX - X_MIN)) / (n - 1), v]),
        showSymbol: false,
        symbol: "none",
        silent: true,
        lineStyle: { color: "#0000ff", width: 1 },
      });

      const font = `7.5px ${FONT}`;
      const tw = textWidth(label, font);
      const bw = Math.round(tw + 22);
      const bh = 9;
      const bx = left + PW - 4 - bw;
      const by = top + PH - 4 - bh;
      graphics.push({
        type: "rect",
        left: bx,
        top: by,
        shape: { width: bw, height: bh },
        style: { fill: "#ffffff", stroke: "#a0a0a0", lineWidth: 1 },
        z: 100,
      });
      graphics.push({
        type: "text",
        left: bx + bw - 3 - tw,
        top: by + 1,
        style: { text: label, fill: "#444", font },
        z: 101,
      });
    });

    chart.setOption({
      animation: false,
      backgroundColor: "#ffffff",
      grid: grids,
      xAxis: xAxes,
      yAxis: yAxes,
      series,
      graphic: graphics,
    });

    return () => chart.dispose();
  }, []);

  return <div ref={ref} style={{ width: 1332, height: 654 }} />;
}
